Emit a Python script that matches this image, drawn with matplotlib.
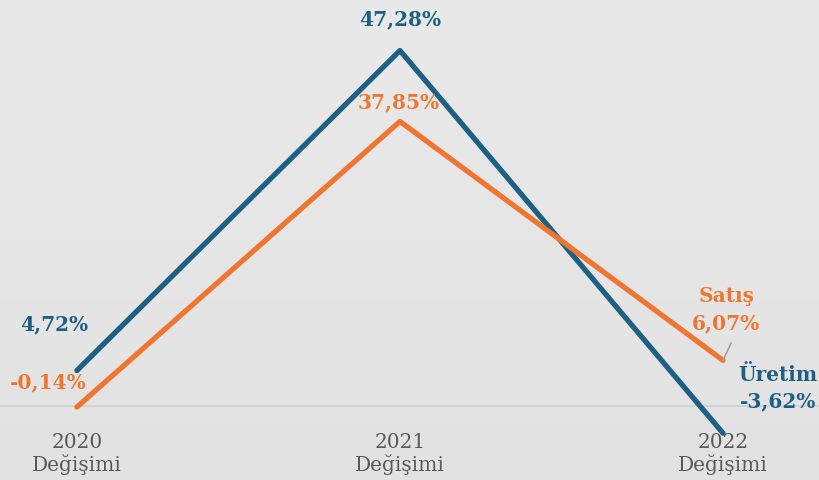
import numpy as np
import matplotlib.pyplot as plt

# data
categories = ["2020\nDeğişimi", "2021\nDeğişimi", "2022\nDeğişimi"]
uretim = [4.72, 47.28, -3.62]
satis = [-0.14, 37.85, 6.07]
uretim_labels = ["4,72%", "47,28%", "Üretim\n-3,62%"]
satis_labels = ["-0,14%", "37,85%", "Satış\n6,07%"]

BLUE = "#1d6083"
ORANGE = "#ee7631"
GRAY = "#595959"

fig = plt.figure(figsize=(8.19, 4.8), dpi=100)
ax = fig.add_axes([0, 0, 1, 1])
x = np.arange(len(categories))
ax.set_xlim(-0.238, 2.297)
ax.set_ylim(-9.84, 54.0)

# background gradient (light grey, slightly darker bottom)
grad = np.linspace(0, 1, 256).reshape(-1, 1)
ax.imshow(grad, extent=[-0.238, 2.297, -9.84, 54.0], aspect="auto",
          cmap=plt.matplotlib.colors.LinearSegmentedColormap.from_list(
              "bg", ["#e2e2e2", "#e6e6e6", "#e9e9e9"]),
          origin="lower", zorder=0)

ax.axhline(0, color="#d2d2d2", lw=1.5, zorder=1)

ax.plot(x, uretim, color=BLUE, lw=3.8, solid_capstyle="round", zorder=3)
ax.plot(x, satis, color=ORANGE, lw=3.8, solid_capstyle="round", zorder=4)

font = dict(family="DejaVu Serif", weight="bold", fontsize=14.5)
# Üretim labels
ax.text(x[0] - 0.07, uretim[0] + 6.2, uretim_labels[0], color=BLUE, ha="center", va="center", **font)
ax.text(x[1], uretim[1] + 4.2, uretim_labels[1], color=BLUE, ha="center", va="center", **font)
ax.text(x[2] + 0.17, uretim[2] + 6.0, uretim_labels[2], color=BLUE, ha="center", va="center",
        linespacing=1.45, **font)
# Satış labels
ax.text(x[0] - 0.09, satis[0] + 3.3, satis_labels[0], color=ORANGE, ha="center", va="center", **font)
ax.text(x[1] - 0.005, satis[1] + 2.6, satis_labels[1], color=ORANGE, ha="center", va="center", **font)
ax.text(x[2] + 0.01, satis[2] + 6.7, satis_labels[2], color=ORANGE, ha="center", va="center",
        linespacing=1.45, **font)
# leader line for Satış 2022
ax.plot([x[2], x[2] + 0.025], [satis[2], satis[2] + 2.3], color="#a0a0a0", lw=1.2, zorder=5)

# category labels
for xi, lab in zip(x, categories):
    ax.text(xi, -6.4, lab, color=GRAY, ha="center", va="center", family="DejaVu Serif",
            fontsize=14.5, linespacing=1.15, zorder=2)

ax.axis("off")
fig.savefig("out.png", dpi=100)
